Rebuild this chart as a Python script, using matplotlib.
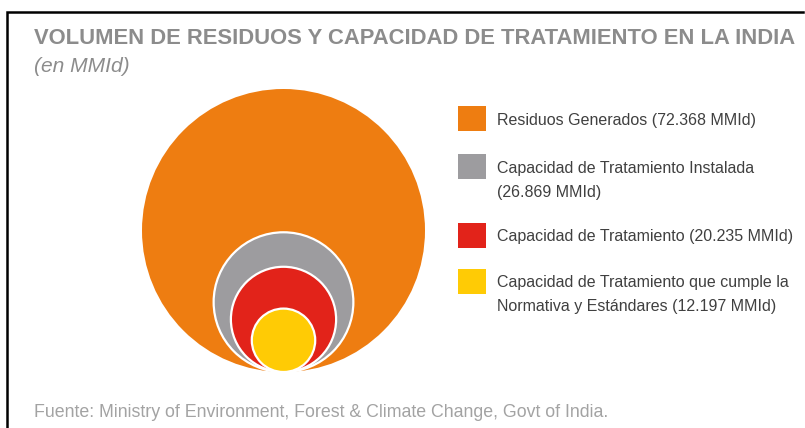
import matplotlib
matplotlib.use("Agg")
import matplotlib.pyplot as plt
from matplotlib.patches import Circle, Rectangle

plt.rcParams['font.family'] = ['Liberation Sans', 'DejaVu Sans']

# ---- data ----
title = "VOLUMEN DE RESIDUOS Y CAPACIDAD DE TRATAMIENTO EN LA INDIA"
subtitle = "(en MMId)"
source = "Fuente: Ministry of Environment, Forest & Climate Change, Govt of India."
categories = ["Residuos Generados",
              "Capacidad de Tratamiento Instalada",
              "Capacidad de Tratamiento",
              "Capacidad de Tratamiento que cumple la\nNormativa y Estándares"]
values = [72.368, 26.869, 20.235, 12.197]
label_lines = [
    ["Residuos Generados (72.368 MMId)"],
    ["Capacidad de Tratamiento Instalada", "(26.869 MMId)"],
    ["Capacidad de Tratamiento (20.235 MMId)"],
    ["Capacidad de Tratamiento que cumple la", "Normativa y Estándares (12.197 MMId)"],
]
colors = ["#EE7D11", "#9D9C9F", "#E2231A", "#FFCB05"]

# ---- figure ----
W, H = 805, 428
fig = plt.figure(figsize=(W / 100, H / 100), dpi=100)
ax = fig.add_axes([0, 0, 1, 1])
ax.set_xlim(0, W)
ax.set_ylim(H, 0)
ax.axis('off')

# frame (top and left edges visible)
ax.plot([7, 7, 803], [H, 12, 12], color="black", lw=1.8, solid_joinstyle='miter')

# titles
t = ax.text(34, 44, title, fontsize=16, fontweight='bold', color="#8C8C8C",
            ha='left', va='baseline')
sub = ax.text(34, 72, subtitle, fontsize=14, style='italic', color="#8C8C8C",
              ha='left', va='baseline')
s = ax.text(34, 417, source, fontsize=11.5, color="#A3A3A3",
            ha='left', va='baseline')

# fit text widths to the reference
fig.canvas.draw()
r = fig.canvas.get_renderer()
for txt, target in [(t, 761), (s, 578), (sub, 96)]:
    w = txt.get_window_extent(r).width
    txt.set_fontsize(txt.get_fontsize() * target / w)

# nested circles, bottom-aligned; radius linear in value, largest capped to panel
cx, bottom = 283.5, 372
px_per_unit, r_cap = 2.6, 141.5
for i, (v, c) in enumerate(zip(values, colors)):
    rad = min(v * px_per_unit, r_cap)
    ec = 'none' if i == 0 else 'white'
    ax.add_patch(Circle((cx, bottom - rad), rad, facecolor=c, edgecolor=ec,
                        lw=1.6, zorder=2 + i))

# legend
sq_x, sq_w, sq_h = 458, 28, 25
row_tops = [106, 154, 222.5, 269]
for top, lines, c in zip(row_tops, label_lines, colors):
    ax.add_patch(Rectangle((sq_x, top), sq_w, sq_h, facecolor=c, edgecolor='none'))
    base = top + sq_h / 2 + 6
    for k, line in enumerate(lines):
        ax.text(497, base + 24 * k, line, fontsize=11.5, color="#404040",
                ha='left', va='baseline')

fig.savefig("out.png", dpi=100, facecolor='white')
